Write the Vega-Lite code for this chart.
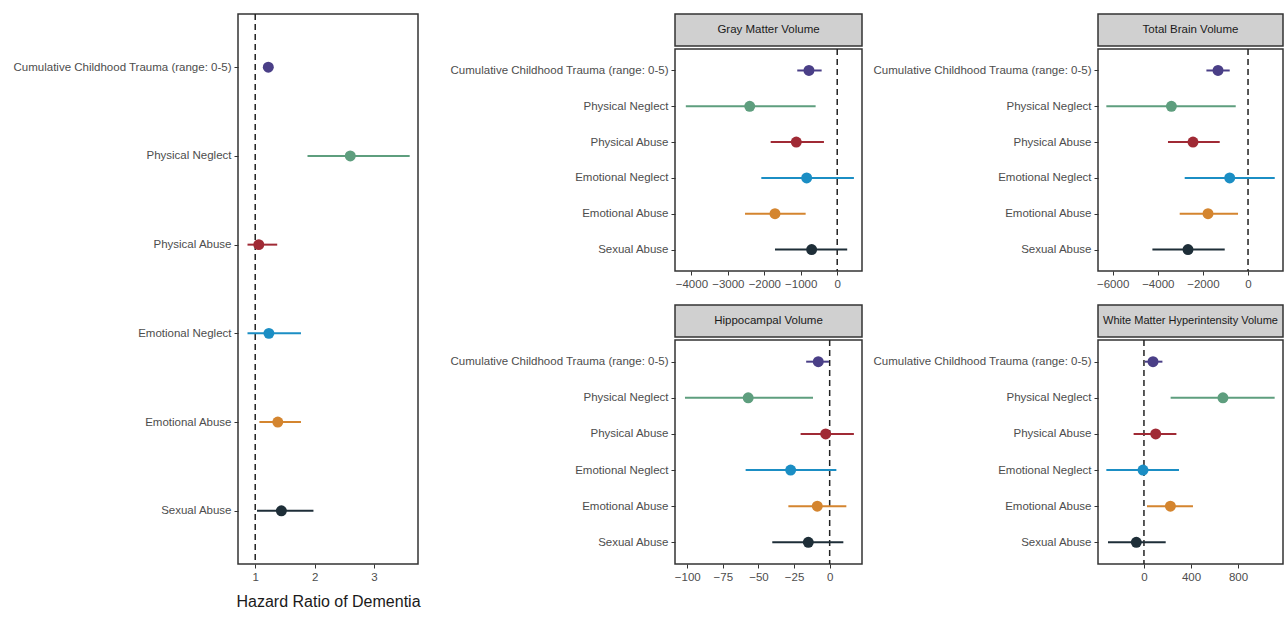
{
  "$schema": "https://vega.github.io/schema/vega-lite/v6.json",
  "background": "white",
  "padding": {"left": 12, "top": 12, "right": 5, "bottom": 5},
  "datasets": {
    "est": [
      {"panel": "HR", "exposure": "Cumulative Childhood Trauma (range: 0-5)", "est": 1.22, "lo": 1.15, "hi": 1.3},
      {"panel": "HR", "exposure": "Physical Neglect", "est": 2.6, "lo": 1.88, "hi": 3.6},
      {"panel": "HR", "exposure": "Physical Abuse", "est": 1.06, "lo": 0.87, "hi": 1.37},
      {"panel": "HR", "exposure": "Emotional Neglect", "est": 1.23, "lo": 0.87, "hi": 1.77},
      {"panel": "HR", "exposure": "Emotional Abuse", "est": 1.38, "lo": 1.07, "hi": 1.77},
      {"panel": "HR", "exposure": "Sexual Abuse", "est": 1.44, "lo": 1.03, "hi": 1.98},
      {"panel": "GM", "exposure": "Cumulative Childhood Trauma (range: 0-5)", "est": -775, "lo": -1096, "hi": -427},
      {"panel": "GM", "exposure": "Physical Neglect", "est": -2400, "lo": -4153, "hi": -592},
      {"panel": "GM", "exposure": "Physical Abuse", "est": -1123, "lo": -1825, "hi": -364},
      {"panel": "GM", "exposure": "Emotional Neglect", "est": -838, "lo": -2082, "hi": 458},
      {"panel": "GM", "exposure": "Emotional Abuse", "est": -1707, "lo": -2529, "hi": -866},
      {"panel": "GM", "exposure": "Sexual Abuse", "est": -701, "lo": -1707, "hi": 274},
      {"panel": "TB", "exposure": "Cumulative Childhood Trauma (range: 0-5)", "est": -1330, "lo": -1845, "hi": -812},
      {"panel": "TB", "exposure": "Physical Neglect", "est": -3397, "lo": -6280, "hi": -545},
      {"panel": "TB", "exposure": "Physical Abuse", "est": -2439, "lo": -3548, "hi": -1255},
      {"panel": "TB", "exposure": "Emotional Neglect", "est": -812, "lo": -2807, "hi": 1184},
      {"panel": "TB", "exposure": "Emotional Abuse", "est": -1774, "lo": -3029, "hi": -443},
      {"panel": "TB", "exposure": "Sexual Abuse", "est": -2661, "lo": -4239, "hi": -1033},
      {"panel": "HV", "exposure": "Cumulative Childhood Trauma (range: 0-5)", "est": -8, "lo": -16.5, "hi": -0.5},
      {"panel": "HV", "exposure": "Physical Neglect", "est": -57.2, "lo": -101.6, "hi": -11.7},
      {"panel": "HV", "exposure": "Physical Abuse", "est": -2.8, "lo": -20.4, "hi": 17},
      {"panel": "HV", "exposure": "Emotional Neglect", "est": -27.4, "lo": -59, "hi": 4.7},
      {"panel": "HV", "exposure": "Emotional Abuse", "est": -8.7, "lo": -29, "hi": 11.7},
      {"panel": "HV", "exposure": "Sexual Abuse", "est": -15, "lo": -40.3, "hi": 9.6},
      {"panel": "WMH", "exposure": "Cumulative Childhood Trauma (range: 0-5)", "est": 77, "lo": 6, "hi": 157},
      {"panel": "WMH", "exposure": "Physical Neglect", "est": 672, "lo": 227, "hi": 1112},
      {"panel": "WMH", "exposure": "Physical Abuse", "est": 100, "lo": -88, "hi": 276},
      {"panel": "WMH", "exposure": "Emotional Neglect", "est": -8, "lo": -320, "hi": 298},
      {"panel": "WMH", "exposure": "Emotional Abuse", "est": 225, "lo": 26, "hi": 417},
      {"panel": "WMH", "exposure": "Sexual Abuse", "est": -65, "lo": -306, "hi": 185}
    ]
  },
  "hconcat": [
    {
      "width": 180,
      "height": 550,
      "data": {"name": "est"},
      "transform": [{"filter": "datum.panel === 'HR'"}],
      "layer": [
        {"data": {"values": [{"v": 1}]}, "transform": [], "mark": {"type": "rule", "strokeDash": [6, 4], "strokeWidth": 1.5, "color": "#222"}, "encoding": {"x": {"field": "v", "type": "quantitative"}}},
        {"mark": {"type": "rule", "strokeWidth": 2}, "encoding": {
          "y": {"field": "exposure", "type": "nominal", "sort": ["Cumulative Childhood Trauma (range: 0-5)", "Physical Neglect", "Physical Abuse", "Emotional Neglect", "Emotional Abuse", "Sexual Abuse"], "scale": {"type": "point", "padding": 0.6}, "axis": {"title": null}},
          "x": {"field": "lo", "type": "quantitative"}, "x2": {"field": "hi"},
          "color": {"field": "exposure", "type": "nominal", "legend": null, "scale": {"domain": ["Cumulative Childhood Trauma (range: 0-5)", "Physical Neglect", "Physical Abuse", "Emotional Neglect", "Emotional Abuse", "Sexual Abuse"], "range": ["#4a3f87", "#5e9e7e", "#a02a35", "#1b8ec4", "#d4852f", "#1e2e38"]}}}},
        {"mark": {"type": "point", "filled": true, "opacity": 1, "size": 120}, "encoding": {
          "y": {"field": "exposure", "type": "nominal", "sort": ["Cumulative Childhood Trauma (range: 0-5)", "Physical Neglect", "Physical Abuse", "Emotional Neglect", "Emotional Abuse", "Sexual Abuse"]},
          "x": {"field": "est", "type": "quantitative", "scale": {"domain": [0.71, 3.74], "nice": false, "zero": false}, "axis": {"values": [1, 2, 3], "format": "d", "title": "Hazard Ratio of Dementia", "titleFontSize": 16, "titleFontWeight": "normal", "titleColor": "#1a1a1a", "titlePadding": 11}},
          "color": {"field": "exposure", "type": "nominal"}}}
      ]
    },
    {
      "spacing": 9,
      "hconcat": [
        {
          "spacing": 13,
          "vconcat": [
            {
              "spacing": 0,
              "vconcat": [
                {"width": 187, "height": 32, "view": {"fill": "#d0d0d0", "stroke": "#333333", "strokeWidth": 1.5}, "data": {"values": [{"label": "Gray Matter Volume"}]}, "mark": {"type": "text", "fontSize": 11.5, "color": "#1a1a1a", "baseline": "middle"}, "encoding": {"text": {"field": "label"}, "x": {"datum": 0.5, "type": "quantitative", "scale": {"domain": [0, 1]}, "axis": null}, "y": {"datum": 0.5, "type": "quantitative", "scale": {"domain": [0, 1]}, "axis": null}}},
                {
                  "width": 187, "height": 222,
                  "data": {"name": "est"},
                  "transform": [{"filter": "datum.panel === 'GM'"}],
                  "layer": [
                    {"data": {"values": [{"v": 0}]}, "transform": [], "mark": {"type": "rule", "strokeDash": [6, 4], "strokeWidth": 1.5, "color": "#222"}, "encoding": {"x": {"field": "v", "type": "quantitative"}}},
                    {"mark": {"type": "rule", "strokeWidth": 2}, "encoding": {
                      "y": {"field": "exposure", "type": "nominal", "sort": ["Cumulative Childhood Trauma (range: 0-5)", "Physical Neglect", "Physical Abuse", "Emotional Neglect", "Emotional Abuse", "Sexual Abuse"], "scale": {"type": "point", "padding": 0.6}, "axis": {"title": null}},
                      "x": {"field": "lo", "type": "quantitative"}, "x2": {"field": "hi"},
                      "color": {"field": "exposure", "type": "nominal"}}},
                    {"mark": {"type": "point", "filled": true, "opacity": 1, "size": 120}, "encoding": {
                      "y": {"field": "exposure", "type": "nominal", "sort": ["Cumulative Childhood Trauma (range: 0-5)", "Physical Neglect", "Physical Abuse", "Emotional Neglect", "Emotional Abuse", "Sexual Abuse"]},
                      "x": {"field": "est", "type": "quantitative", "scale": {"domain": [-4450, 680], "nice": false, "zero": false}, "axis": {"values": [-4000, -3000, -2000, -1000, 0], "format": "d", "title": null}},
                      "color": {"field": "exposure", "type": "nominal"}}}
                  ]
                }
              ]
            },
            {
              "spacing": 0,
              "vconcat": [
                {"width": 187, "height": 32, "view": {"fill": "#d0d0d0", "stroke": "#333333", "strokeWidth": 1.5}, "data": {"values": [{"label": "Hippocampal Volume"}]}, "mark": {"type": "text", "fontSize": 11.5, "color": "#1a1a1a", "baseline": "middle"}, "encoding": {"text": {"field": "label"}, "x": {"datum": 0.5, "type": "quantitative", "scale": {"domain": [0, 1]}, "axis": null}, "y": {"datum": 0.5, "type": "quantitative", "scale": {"domain": [0, 1]}, "axis": null}}},
                {
                  "width": 187, "height": 224,
                  "data": {"name": "est"},
                  "transform": [{"filter": "datum.panel === 'HV'"}],
                  "layer": [
                    {"data": {"values": [{"v": 0}]}, "transform": [], "mark": {"type": "rule", "strokeDash": [6, 4], "strokeWidth": 1.5, "color": "#222"}, "encoding": {"x": {"field": "v", "type": "quantitative"}}},
                    {"mark": {"type": "rule", "strokeWidth": 2}, "encoding": {
                      "y": {"field": "exposure", "type": "nominal", "sort": ["Cumulative Childhood Trauma (range: 0-5)", "Physical Neglect", "Physical Abuse", "Emotional Neglect", "Emotional Abuse", "Sexual Abuse"], "scale": {"type": "point", "padding": 0.6}, "axis": {"title": null}},
                      "x": {"field": "lo", "type": "quantitative"}, "x2": {"field": "hi"},
                      "color": {"field": "exposure", "type": "nominal"}}},
                    {"mark": {"type": "point", "filled": true, "opacity": 1, "size": 120}, "encoding": {
                      "y": {"field": "exposure", "type": "nominal", "sort": ["Cumulative Childhood Trauma (range: 0-5)", "Physical Neglect", "Physical Abuse", "Emotional Neglect", "Emotional Abuse", "Sexual Abuse"]},
                      "x": {"field": "est", "type": "quantitative", "scale": {"domain": [-108.6, 22.7], "nice": false, "zero": false}, "axis": {"values": [-100, -75, -50, -25, 0], "format": "d", "title": null}},
                      "color": {"field": "exposure", "type": "nominal"}}}
                  ]
                }
              ]
            }
          ]
        },
        {
          "spacing": 13,
          "vconcat": [
            {
              "spacing": 0,
              "vconcat": [
                {"width": 185, "height": 32, "view": {"fill": "#d0d0d0", "stroke": "#333333", "strokeWidth": 1.5}, "data": {"values": [{"label": "Total Brain Volume"}]}, "mark": {"type": "text", "fontSize": 11.5, "color": "#1a1a1a", "baseline": "middle"}, "encoding": {"text": {"field": "label"}, "x": {"datum": 0.5, "type": "quantitative", "scale": {"domain": [0, 1]}, "axis": null}, "y": {"datum": 0.5, "type": "quantitative", "scale": {"domain": [0, 1]}, "axis": null}}},
                {
                  "width": 185, "height": 222,
                  "data": {"name": "est"},
                  "transform": [{"filter": "datum.panel === 'TB'"}],
                  "layer": [
                    {"data": {"values": [{"v": 0}]}, "transform": [], "mark": {"type": "rule", "strokeDash": [6, 4], "strokeWidth": 1.5, "color": "#222"}, "encoding": {"x": {"field": "v", "type": "quantitative"}}},
                    {"mark": {"type": "rule", "strokeWidth": 2}, "encoding": {
                      "y": {"field": "exposure", "type": "nominal", "sort": ["Cumulative Childhood Trauma (range: 0-5)", "Physical Neglect", "Physical Abuse", "Emotional Neglect", "Emotional Abuse", "Sexual Abuse"], "scale": {"type": "point", "padding": 0.6}, "axis": {"title": null}},
                      "x": {"field": "lo", "type": "quantitative"}, "x2": {"field": "hi"},
                      "color": {"field": "exposure", "type": "nominal"}}},
                    {"mark": {"type": "point", "filled": true, "opacity": 1, "size": 120}, "encoding": {
                      "y": {"field": "exposure", "type": "nominal", "sort": ["Cumulative Childhood Trauma (range: 0-5)", "Physical Neglect", "Physical Abuse", "Emotional Neglect", "Emotional Abuse", "Sexual Abuse"]},
                      "x": {"field": "est", "type": "quantitative", "scale": {"domain": [-6650, 1550], "nice": false, "zero": false}, "axis": {"values": [-6000, -4000, -2000, 0], "format": "d", "title": null}},
                      "color": {"field": "exposure", "type": "nominal"}}}
                  ]
                }
              ]
            },
            {
              "spacing": 0,
              "vconcat": [
                {"width": 185, "height": 32, "view": {"fill": "#d0d0d0", "stroke": "#333333", "strokeWidth": 1.5}, "data": {"values": [{"label": "White Matter Hyperintensity Volume"}]}, "mark": {"type": "text", "fontSize": 11, "color": "#1a1a1a", "baseline": "middle"}, "encoding": {"text": {"field": "label"}, "x": {"datum": 0.5, "type": "quantitative", "scale": {"domain": [0, 1]}, "axis": null}, "y": {"datum": 0.5, "type": "quantitative", "scale": {"domain": [0, 1]}, "axis": null}}},
                {
                  "width": 185, "height": 224,
                  "data": {"name": "est"},
                  "transform": [{"filter": "datum.panel === 'WMH'"}],
                  "layer": [
                    {"data": {"values": [{"v": 0}]}, "transform": [], "mark": {"type": "rule", "strokeDash": [6, 4], "strokeWidth": 1.5, "color": "#222"}, "encoding": {"x": {"field": "v", "type": "quantitative"}}},
                    {"mark": {"type": "rule", "strokeWidth": 2}, "encoding": {
                      "y": {"field": "exposure", "type": "nominal", "sort": ["Cumulative Childhood Trauma (range: 0-5)", "Physical Neglect", "Physical Abuse", "Emotional Neglect", "Emotional Abuse", "Sexual Abuse"], "scale": {"type": "point", "padding": 0.6}, "axis": {"title": null}},
                      "x": {"field": "lo", "type": "quantitative"}, "x2": {"field": "hi"},
                      "color": {"field": "exposure", "type": "nominal"}}},
                    {"mark": {"type": "point", "filled": true, "opacity": 1, "size": 120}, "encoding": {
                      "y": {"field": "exposure", "type": "nominal", "sort": ["Cumulative Childhood Trauma (range: 0-5)", "Physical Neglect", "Physical Abuse", "Emotional Neglect", "Emotional Abuse", "Sexual Abuse"]},
                      "x": {"field": "est", "type": "quantitative", "scale": {"domain": [-391, 1183], "nice": false, "zero": false}, "axis": {"values": [0, 400, 800], "format": "d", "title": null}},
                      "color": {"field": "exposure", "type": "nominal"}}}
                  ]
                }
              ]
            }
          ]
        }
      ]
    }
  ],
  "spacing": 28,
  "resolve": {"scale": {"color": "shared"}},
  "config": {
    "font": "Liberation Sans",
    "view": {"stroke": "#333333", "strokeWidth": 1.5},
    "axis": {"grid": false, "domain": false, "tickColor": "#333333", "tickSize": 4, "tickWidth": 1, "labelColor": "#4d4d4d", "labelFontSize": 11.5, "labelFont": "Liberation Sans", "labelPadding": 3},
    "axisY": {"labelLimit": 400},
    "legend": {"disable": true}
  }
}
